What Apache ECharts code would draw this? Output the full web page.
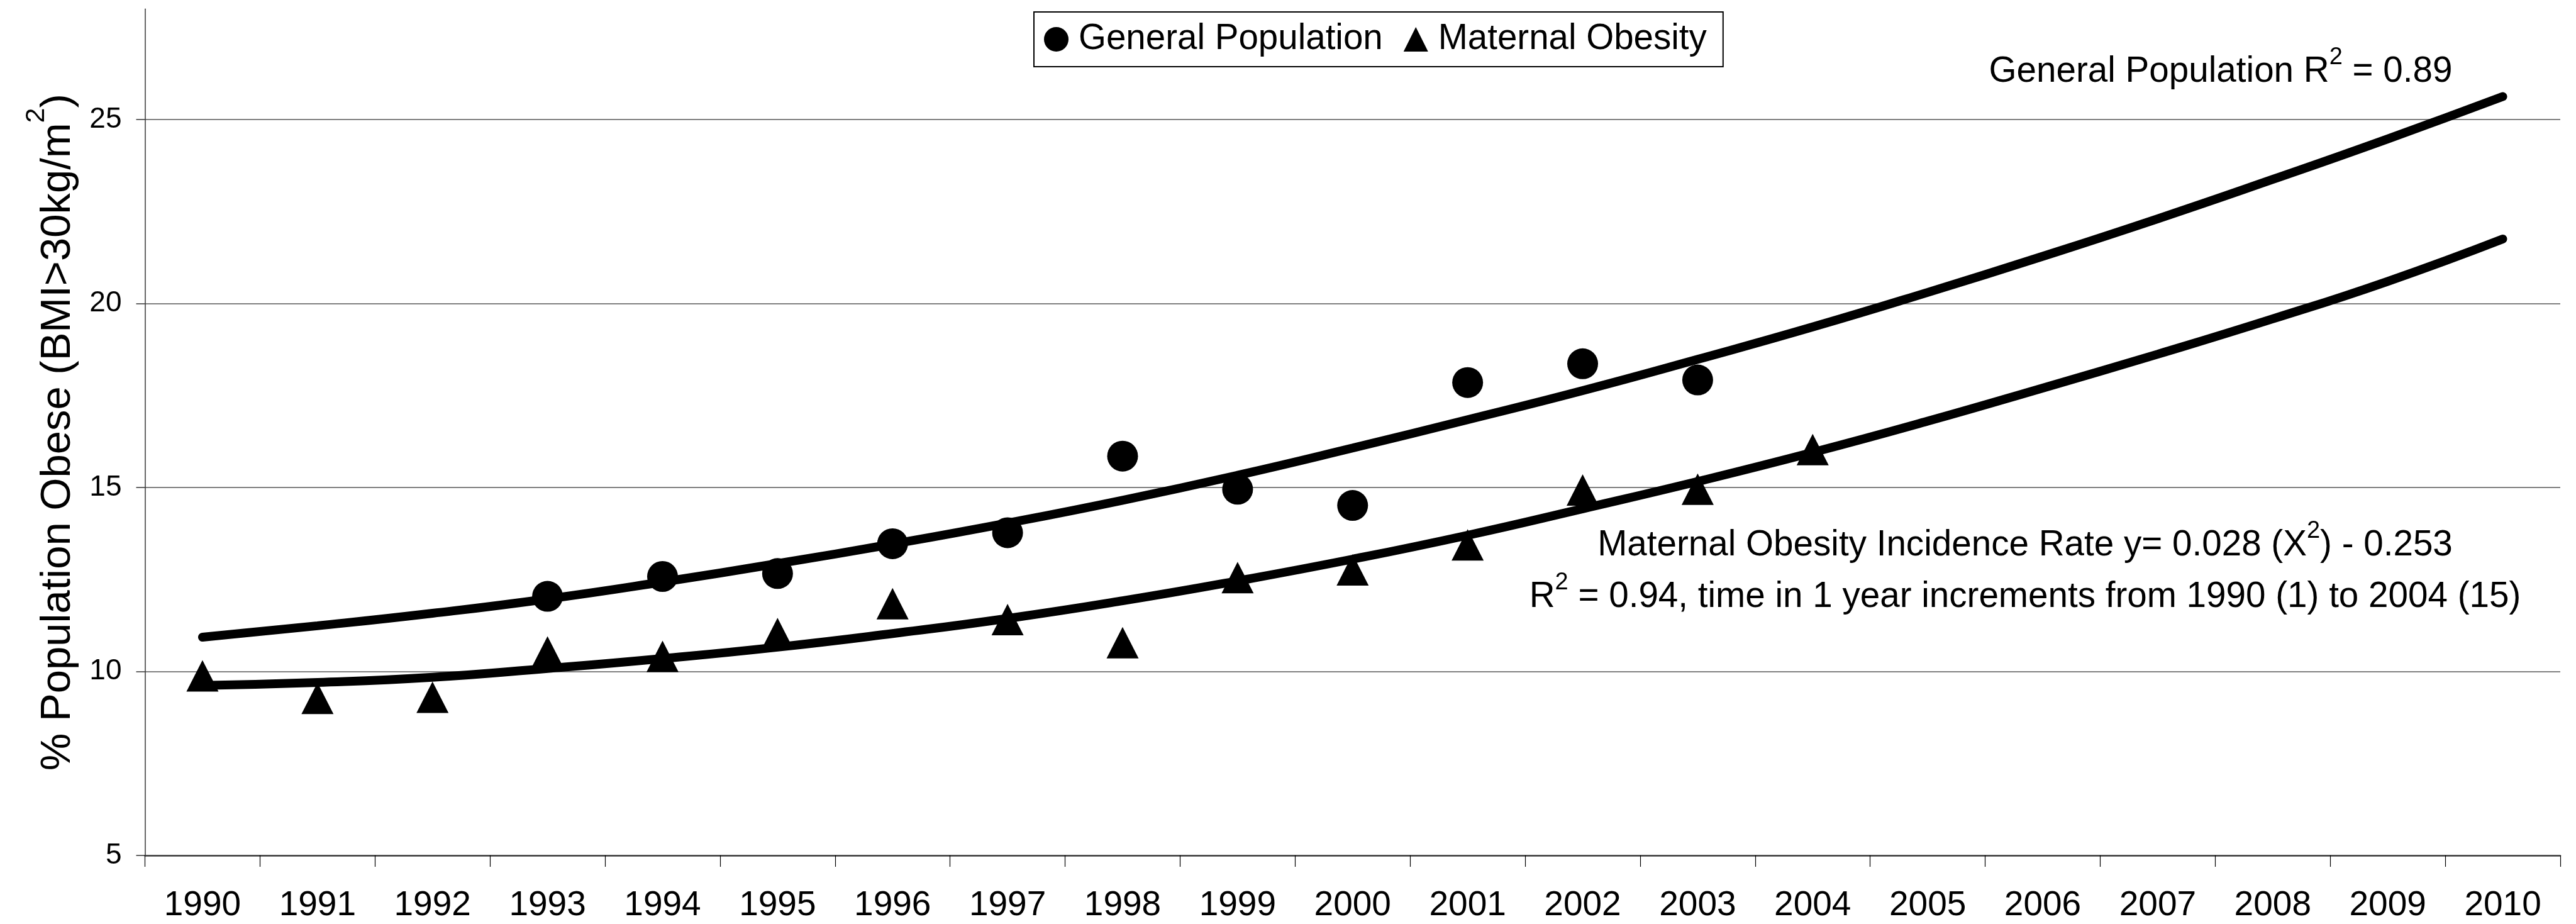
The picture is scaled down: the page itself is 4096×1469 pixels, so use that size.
<!DOCTYPE html>
<html>
<head>
<meta charset="utf-8">
<script src="https://cdn.jsdelivr.net/npm/echarts@6/dist/echarts.min.js"></script>
<style>
  html, body { margin: 0; padding: 0; background: #fff; }
  #chart { width: 4096px; height: 1469px; }
</style>
</head>
<body>
<div id="chart"></div>
<script>
// ---- data ----
const years = ['1990','1991','1992','1993','1994','1995','1996','1997','1998','1999','2000',
               '2001','2002','2003','2004','2005','2006','2007','2008','2009','2010'];
const generalObs = ['-','-','-',12.04,12.58,12.66,13.47,13.77,15.85,14.95,14.51,17.85,18.36,17.92,'-','-','-','-','-','-','-'];
const maternalObs = [9.88,9.27,9.30,10.53,10.41,11.03,11.84,11.41,10.78,12.55,12.76,13.44,14.93,14.95,16.03,'-','-','-','-','-','-'];
const generalTrend = [10.93,11.24,11.58,11.97,12.43,12.93,13.46,14.03,14.65,15.33,16.07,16.84,17.63,18.48,19.36,20.30,21.28,22.30,23.37,24.47,25.62];
const maternalTrend = [9.62,9.70,9.84,10.08,10.35,10.66,11.03,11.44,11.92,12.46,13.05,13.70,14.42,15.16,15.95,16.80,17.70,18.62,19.58,20.60,21.75];
const yTicks = [5, 10, 15, 20, 25];
const legendNames = ['General Population', 'Maternal Obesity'];

const FONT = "'Liberation Sans', Arial, Helvetica, sans-serif";

const chart = echarts.init(document.getElementById('chart'), null, { renderer: 'canvas' });

const option = {
  animation: false,
  backgroundColor: '#fff',
  grid: { left: 230.5, right: 25, top: 14.3, bottom: 109, containLabel: false },
  legend: {
    data: legendNames,
    left: 1644, top: 19,
    orient: 'horizontal',
    itemWidth: 39, itemHeight: 39, itemGap: 33,
    padding: [15, 26, 15, 16],
    borderColor: '#000', borderWidth: 2, backgroundColor: '#fff',
    itemStyle: { opacity: 1 },
    textStyle: { fontSize: 56.5, color: '#000', fontFamily: FONT, padding: [0, 0, 0, 11] }
  },
  xAxis: {
    type: 'category',
    data: years,
    boundaryGap: true,
    axisLine: { show: true, lineStyle: { color: '#444', width: 2.5 } },
    axisTick: { show: true, length: 18, alignWithLabel: false, interval: 0, lineStyle: { color: '#000', width: 1.2 } },
    axisLabel: { fontSize: 55, margin: 52, color: '#000', fontFamily: FONT, interval: 0 },
    splitLine: { show: false }
  },
  yAxis: {
    type: 'value',
    min: 5, max: 28, interval: 5,
    axisLine: { show: true, lineStyle: { color: '#333', width: 1.5 } },
    axisTick: { show: true, length: 14, lineStyle: { color: '#333', width: 1.5 }, customValues: yTicks },
    axisLabel: { fontSize: 46, margin: 37, color: '#000', fontFamily: FONT, customValues: yTicks },
    splitLine: { show: true, lineStyle: { color: '#555', width: 1.5 } },
    name: '{m|% Population Obese (BMI>30kg/m}{s|2}{m|)}',
    nameLocation: 'middle',
    nameGap: 82,
    nameMoveOverlap: false,
    nameTextStyle: {
      color: '#000', fontFamily: FONT, fontSize: 67,
      rich: {
        m: { fontSize: 67, lineHeight: 112, fontFamily: FONT, color: '#000' },
        s: { fontSize: 43, lineHeight: 43, verticalAlign: 'top', fontFamily: FONT, color: '#000' }
      }
    }
  },
  graphic: [
    {
      type: 'text', x: 3531, y: 73, silent: true,
      style: {
        text: '{m|General Population R}{s|2}{m| = 0.89}',
        textAlign: 'center', textVerticalAlign: 'top', fill: '#000',
        rich: {
          m: { fontSize: 56.6, lineHeight: 82, fontFamily: FONT, fill: '#000' },
          s: { fontSize: 38, lineHeight: 38, verticalAlign: 'top', fontFamily: FONT, fill: '#000' }
        }
      }
    },
    {
      type: 'text', x: 3220, y: 826, silent: true,
      style: {
        text: '{m|Maternal Obesity Incidence Rate y= 0.028 (X}{s|2}{m|) - 0.253}\n{m|R}{s|2}{m| = 0.94, time in 1 year increments from 1990 (1) to 2004 (15)}',
        textAlign: 'center', textVerticalAlign: 'top', fill: '#000',
        rich: {
          m: { fontSize: 56.6, lineHeight: 82, fontFamily: FONT, fill: '#000' },
          s: { fontSize: 38, lineHeight: 38, verticalAlign: 'top', fontFamily: FONT, fill: '#000' }
        }
      }
    }
  ],
  series: [
    {
      type: 'scatter', name: legendNames[0], data: generalObs,
      symbol: 'circle', symbolSize: 49,
      itemStyle: { color: '#000', opacity: 1 }, z: 3
    },
    {
      type: 'scatter', name: legendNames[1], data: maternalObs,
      symbol: 'triangle', symbolSize: [51, 50],
      itemStyle: { color: '#000', opacity: 1 }, z: 3
    },
    {
      type: 'line', name: 'General Population trend', data: generalTrend,
      smooth: true, symbol: 'none', showSymbol: false,
      lineStyle: { color: '#000', width: 14, cap: 'round' }, z: 4
    },
    {
      type: 'line', name: 'Maternal Obesity trend', data: maternalTrend,
      smooth: true, symbol: 'none', showSymbol: false,
      lineStyle: { color: '#000', width: 14, cap: 'round' }, z: 4
    }
  ]
};

chart.setOption(option);
</script>
</body>
</html>
